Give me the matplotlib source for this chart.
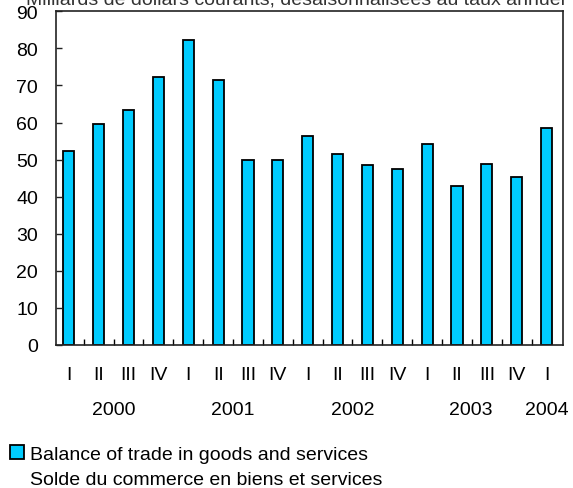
import matplotlib
matplotlib.use("Agg")
import matplotlib.pyplot as plt
from matplotlib.patches import Patch

# quarterly balance, billions of current dollars, seasonally adjusted at annual rates
quarters = ["I", "II", "III", "IV", "I", "II", "III", "IV", "I", "II", "III", "IV",
            "I", "II", "III", "IV", "I"]
values = [52.2, 59.5, 63.5, 72.3, 82.2, 71.4, 50.0, 50.0, 56.3, 51.6, 48.5, 47.5,
          54.2, 42.9, 48.9, 45.4, 58.4]
years = ["2000", "2001", "2002", "2003", "2004"]
year_pos = [1.5, 5.5, 9.5, 13.45, 16.0]

plt.rcParams['font.family'] = ['Liberation Sans', 'DejaVu Sans']

W, H = 573, 489
fig = plt.figure(figsize=(W / 100, H / 100), dpi=100)
ax = fig.add_axes([56 / W, 1 - 346 / H, (563 - 56) / W, (346 - 12.3) / H])

x = list(range(len(values)))
bars = ax.bar(x, values, width=0.37, color='#00CCFF', edgecolor='black', linewidth=1.3)

ax.set_xlim(-0.43, 16.55)
ax.set_ylim(0, 90)
ax.set_yticks(range(0, 91, 10))
ax.tick_params(axis='y', direction='in', length=4, width=1, pad=13, labelsize=14, color='#222222')

# quarter labels under bars, small tick marks between bars
ax.set_xticks(x)
ax.set_xticklabels(quarters)
ax.tick_params(axis='x', which='major', length=0, pad=15, labelsize=14)
ax.set_xticks([i + 0.5 for i in x[:-1]], minor=True)
ax.tick_params(axis='x', which='minor', direction='in', length=4, width=1)

for s in ax.spines.values():
    s.set_linewidth(1.2)
    s.set_color('#222222')

# year labels under the quarters
for yr, p in zip(years, year_pos):
    ax.annotate(yr, xy=(p, 0), xycoords='data', xytext=(0, -65), textcoords='offset pixels',
                ha='center', va='center', fontsize=14, annotation_clip=False)

# unit line at the very top (cut off in the original)
fig.text(565 / W, 1.0, "Milliards de dollars courants, désaisonnalisées au taux annuel",
         ha='right', va='center', fontsize=14, color='#333333')

# legend
fig.legend([bars, Patch(facecolor='none', edgecolor='none')],
           ["Balance of trade in goods and services", "Solde du commerce en biens et services"],
           loc='upper left', bbox_to_anchor=(2 / W, 1 - 438 / H), frameon=False,
           fontsize=14, handlelength=0.75, handleheight=0.75, handletextpad=0.3,
           labelspacing=0.4, borderaxespad=0)

plt.savefig('out.png', dpi=100)
